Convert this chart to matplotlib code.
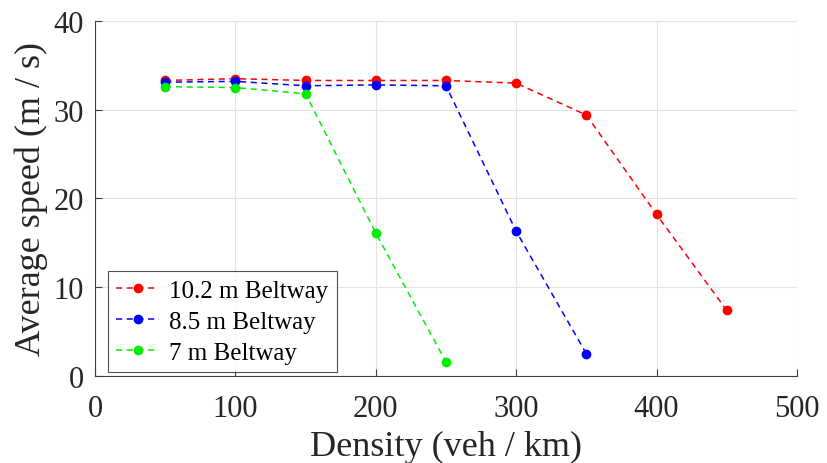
import matplotlib
matplotlib.use("Agg")
import matplotlib.pyplot as plt

density = [50, 100, 150, 200, 250, 300, 350, 400, 450]
speed_10_2 = [33.3, 33.5, 33.3, 33.3, 33.3, 33.0, 29.4, 18.2, 7.4]
density_8_5 = [50, 100, 150, 200, 250, 300, 350]
speed_8_5 = [33.1, 33.2, 32.7, 32.8, 32.7, 16.3, 2.5]
density_7 = [50, 100, 150, 200, 250]
speed_7 = [32.6, 32.5, 31.8, 16.1, 1.6]
labels = ["10.2 m Beltway", "8.5 m Beltway", "7 m Beltway"]

plt.rcParams['font.family'] = ['Liberation Serif', 'DejaVu Serif']

fig = plt.figure(figsize=(8.27, 4.64), dpi=100)
ax = fig.add_axes([0.1149, 0.1875, 0.8488, 0.7651])

ax.plot(density, speed_10_2, '--o', color='#ff0000', ms=6, lw=1.1, label=labels[0], dashes=(4, 3))
ax.plot(density_8_5, speed_8_5, '--o', color='#0000ff', ms=6, lw=1.1, label=labels[1], dashes=(4, 3))
ax.plot(density_7, speed_7, '--o', color='#00ee00', ms=6, lw=1.1, label=labels[2], dashes=(4, 3))

ax.set_xlim(0, 500)
ax.set_ylim(0, 40)
ax.set_xticks([0, 100, 200, 300, 400, 500])
ax.set_yticks([0, 10, 20, 30, 40])
ax.grid(True, color='#e3e3e3', lw=0.8)
ax.set_axisbelow(True)
for s in ['top', 'right']:
    ax.spines[s].set_visible(False)
for s in ['left', 'bottom']:
    ax.spines[s].set_color('#404040')
ax.tick_params(direction='in', length=5, colors='#404040', labelcolor='#262626', labelsize=22)
ax.tick_params(axis='x', pad=13)
ax.tick_params(axis='y', pad=8)

ax.set_xlabel("Density (veh / km)", fontsize=26, color='#262626', labelpad=5)
ax.set_ylabel("Average speed (m / s)", fontsize=26, color='#262626', labelpad=4)

leg = ax.legend(loc='lower left', bbox_to_anchor=(0.018, 0.01), fontsize=18, frameon=True,
                fancybox=False, edgecolor='#262626', handlelength=1.7, borderpad=0.35,
                labelspacing=0.33, handletextpad=0.4, borderaxespad=0.0)
leg.get_frame().set_linewidth(0.8)

fig.savefig("out.png", dpi=100)
